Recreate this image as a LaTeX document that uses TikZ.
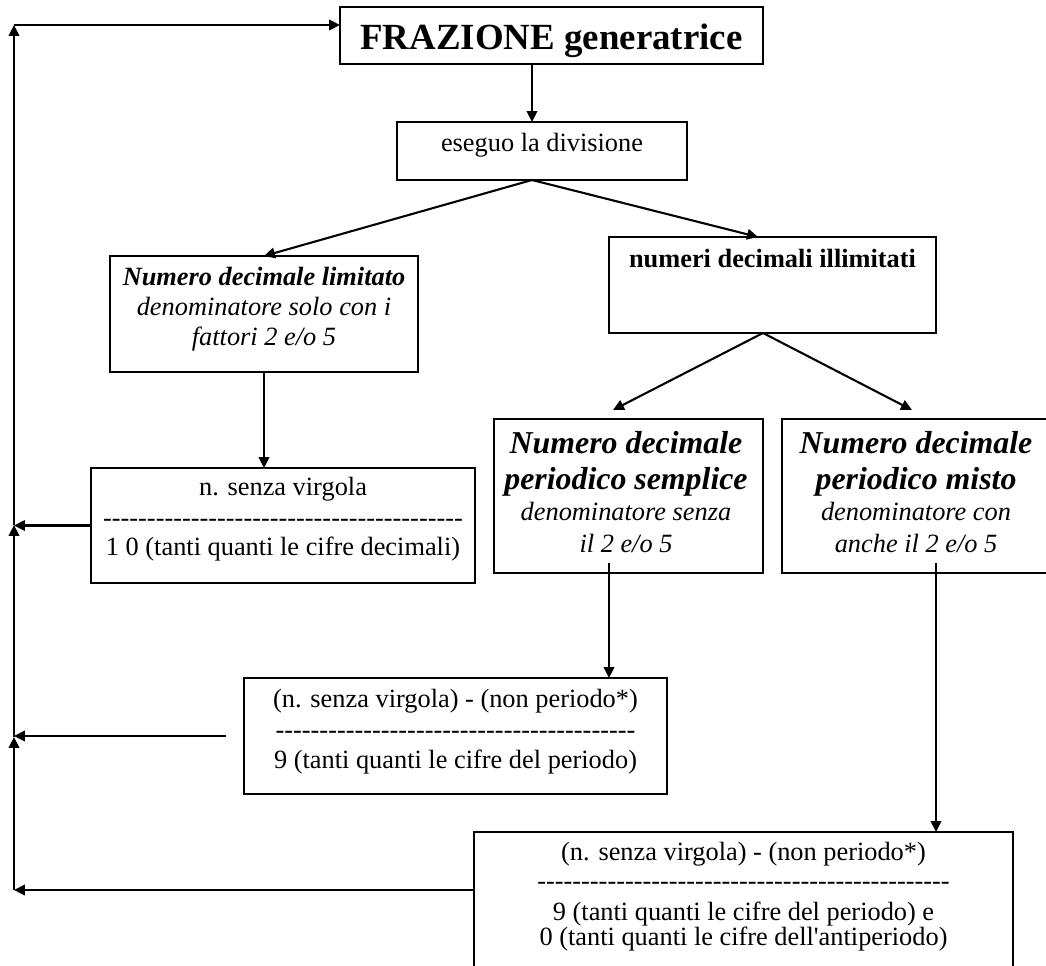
\documentclass[tikz,border=0pt]{standalone}
\usepackage{fontspec}
\setmainfont{Liberation Serif}[Ligatures=TeXOff]
\usetikzlibrary{arrows.meta,calc,positioning}

\tikzset{
  box/.style 2 args={draw, line width=0.8pt, anchor=north west, inner sep=0pt, outer sep=0pt,
    minimum width=#1*0.016cm, minimum height=#2*0.016cm},
  txt/.style={anchor=base, inner sep=0pt, font=\fontsize{12}{14}\selectfont},
  it/.style={txt, font=\fontsize{12}{14}\selectfont\itshape},
  bf/.style={txt, font=\fontsize{12}{14}\selectfont\bfseries},
  bi/.style={txt, font=\fontsize{12}{14}\selectfont\bfseries\itshape},
  big/.style={txt, font=\fontsize{14.5}{17}\selectfont\bfseries\itshape},
  arr/.style={line width=0.95pt, -{Triangle[length=5pt,width=4.8pt]}},
}

\begin{document}
\begin{tikzpicture}[x=0.016cm, y=-0.016cm]
    %%Background
    \useasboundingbox (0,0) rectangle (1046,965);

    %% Boxes
    \node[box={423}{57}] (fraz) at (340,7) {};
    \node[box={290}{58}] (div) at (397,122) {};
    \node[box={308}{116}] (lim) at (110,256) {};
    \node[box={327}{96}] (illim) at (609,237) {};
    \node[box={269}{154}] (sempl) at (494,419) {};
    \node[box={270}{154}] (misto) at (782,419) {};
    \node[box={384}{115}] (fr1) at (91,468) {};
    \node[box={423}{116}] (fr2) at (244,678) {};
    \node[box={539}{150}] (fr3) at (474,832) {};

    %% Texts
    \node[txt, font=\fontsize{16.8}{20}\selectfont\bfseries] (fraz-t) at (551.5,50) {FRAZIONE generatrice};
    \node[txt] (div-t) at (542,152) {eseguo la divisione};

    \node[bi] (lim-t1) at (264,285) {Numero decimale limitato};
    \node[it] (lim-t2) at (264,315) {denominatore solo con i};
    \node[it] (lim-t3) at (264,345) {fattori 2 e/o 5};

    \node[bf] (illim-t) at (772.5,267) {numeri decimali illimitati};

    \node[big] (sempl-t1) at (626,453) {Numero decimale};
    \node[big] (sempl-t2) at (626,489) {periodico semplice};
    \node[it] (sempl-t3) at (626,520) {denominatore senza};
    \node[it] (sempl-t4) at (626,552) {il 2 e/o 5};

    \node[big] (misto-t1) at (916,453) {Numero decimale};
    \node[big] (misto-t2) at (916,489) {periodico misto};
    \node[it] (misto-t3) at (916,520) {denominatore con};
    \node[it] (misto-t4) at (916,552) {anche il 2 e/o 5};

    \node[txt] (fr1-t1) at (283,495) {n. senza virgola};
    \node[txt] (fr1-t2) at (283,526) {-----------------------------------------};
    \node[txt] (fr1-t3) at (283,555) {1 0 (tanti quanti le cifre decimali)};

    \node[txt] (fr2-t1) at (455.5,707) {(n. senza virgola) - (non periodo*)};
    \node[txt] (fr2-t2) at (455.5,738) {-----------------------------------------};
    \node[txt] (fr2-t3) at (455.5,768) {9 (tanti quanti le cifre del periodo)};

    \node[txt] (fr3-t1) at (743.5,860) {(n. senza virgola) - (non periodo*)};
    \node[txt] (fr3-t2) at (743.5,889) {-----------------------------------------------};
    \node[txt] (fr3-t3) at (743.5,920) {9 (tanti quanti le cifre del periodo) e};
    \node[txt] (fr3-t4) at (743.5,945) {0 (tanti quanti le cifre dell'antiperiodo)};

    %% Connectors
    \coordinate (rail0) at (14,25);
    \coordinate (rail1) at (14,525);
    \coordinate (rail2) at (14,737);
    \coordinate (rail3) at (14,890);
    \coordinate (c1) at (532,0);
    \coordinate (c2) at (758,0);
    \coordinate (c3) at (763,0);
    \coordinate (c5) at (609,0);
    \coordinate (c6) at (936,0);
    \coordinate (t-sempl) at (613,410);
    \coordinate (t-misto) at (912,410);

    \draw[arr] (fraz.south -| c1) -- (div.north -| c1);
    \draw[arr] (div.south -| c1) -- (lim.north);
    \draw[arr] (div.south -| c1) -- (illim.north -| c2);
    \draw[arr] (illim.south -| c3) -- (t-sempl);
    \draw[arr] (illim.south -| c3) -- (t-misto);
    \draw[arr] (lim.south) -- (lim.south |- fr1.north);
    \draw[arr] ($(sempl.south -| c5)+(0,-10)$) -- (fr2.north -| c5);
    \draw[arr] ($(misto.south -| c6)+(0,-10)$) -- (fr3.north -| c6);

    %% back to the top
    \draw[arr] (fr1.west) -- (fr1.west -| rail0);
    \draw[arr] ($(fr2.west)+(-18,0)$) -- (fr2.west -| rail0);
    \draw[arr] (fr3.west |- rail3) -- (rail3);
    \draw[arr] (rail3) -- (rail2);
    \draw[arr] (rail2) -- (rail1);
    \draw[arr] (rail1) -- (rail0);
    \draw[arr] (rail0) -- (fraz.west |- rail0);
\end{tikzpicture}
\end{document}
